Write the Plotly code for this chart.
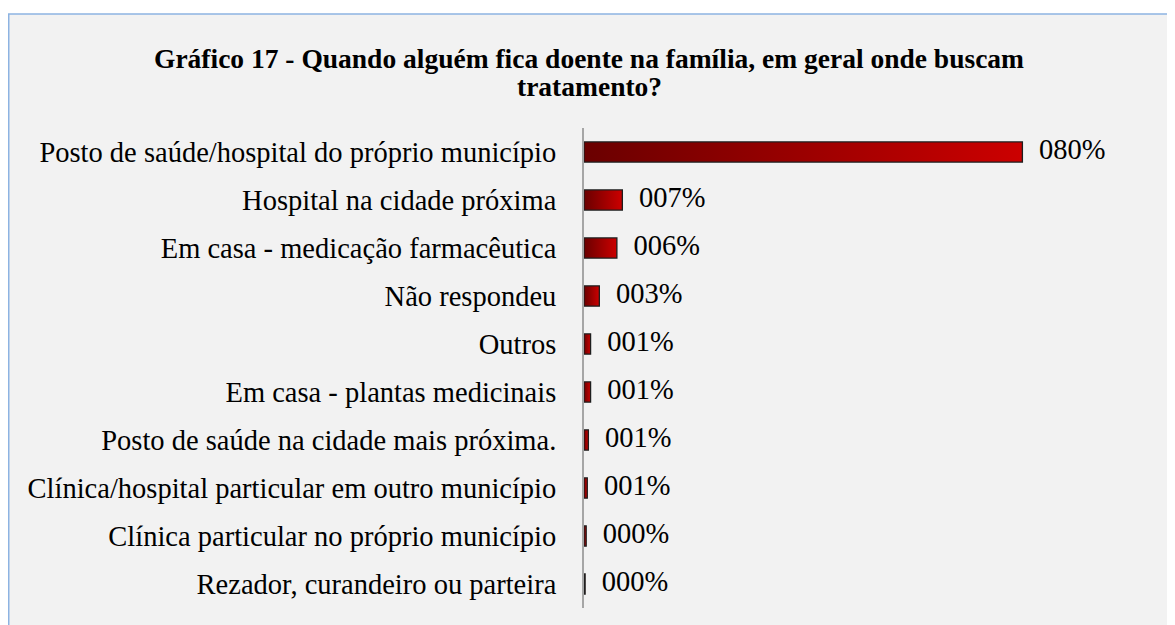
import plotly.graph_objects as go

categories = [
    "Posto de saúde/hospital do próprio município",
    "Hospital na cidade próxima",
    "Em casa - medicação farmacêutica",
    "Não respondeu",
    "Outros",
    "Em casa - plantas medicinais",
    "Posto de saúde na cidade mais próxima.",
    "Clínica/hospital particular em outro município",
    "Clínica particular no próprio município",
    "Rezador, curandeiro ou parteira",
]
values = [80.0, 7.0, 6.0, 2.8, 1.2, 1.2, 0.8, 0.6, 0.4, 0.2]
labels = [f"{round(v):03d}%" for v in values]
title_lines = [
    "Gráfico 17 - Quando alguém fica doente na família, em geral onde buscam",
    "tratamento?",
]

# page body has an 8px margin, so figure pixel = screenshot pixel - 8
W, H = 1167, 617
L, R_px = 576, 1124   # plot area x pixels
T, B_px = 120, 600    # plot area y pixels
XMAX = 100
BAR_HALF = 0.21
FONT = "Liberation Serif"

fig = go.Figure()
for i, (c, v) in enumerate(zip(categories, values)):
    fig.add_trace(go.Scatter(
        x=[0, v, v, 0, 0],
        y=[i - BAR_HALF, i - BAR_HALF, i + BAR_HALF, i + BAR_HALF, i - BAR_HALF],
        mode="lines", fill="toself",
        fillgradient=dict(type="horizontal",
                          colorscale=[[0, "#6a0000"], [1, "#cc0000"]]),
        line=dict(color="#1e1e1e", width=1.3),
        hoverinfo="skip", showlegend=False,
    ))

fig.add_trace(go.Scatter(
    x=values, y=list(range(len(values))), mode="text",
    text=["  \u200a" + t for t in labels], textposition="middle right",
    textfont=dict(family=FONT, size=28.5, color="#000"),
    showlegend=False, hoverinfo="skip",
))

def px_x(p):
    return (p - L) / (R_px - L)

def px_y(p):
    return (B_px - p) / (B_px - T)

shapes = [
    dict(type="rect", xref="paper", yref="paper", x0=px_x(-5), x1=px_x(W + 5), y0=px_y(6), y1=px_y(-5),
         fillcolor="white", line=dict(width=0), layer="below"),
    dict(type="line", xref="paper", yref="paper", x0=px_x(0.75), x1=px_x(0.75), y0=px_y(6), y1=px_y(H + 5),
         line=dict(color="#8db3e2", width=1.5)),
    dict(type="line", xref="paper", yref="paper", x0=px_x(0), x1=px_x(W + 5), y0=px_y(6), y1=px_y(6),
         line=dict(color="#8db3e2", width=1.5)),
]

annotations = [
    dict(text=f"<b>{title_lines[0]}</b>", xref="paper", yref="paper",
         x=px_x(580.5), y=px_y(50), xanchor="center", yanchor="middle", showarrow=False,
         font=dict(family=FONT, size=27.5, color="#000")),
    dict(text=f"<b>{title_lines[1]}</b>", xref="paper", yref="paper",
         x=px_x(581), y=px_y(79), xanchor="center", yanchor="middle", showarrow=False,
         font=dict(family=FONT, size=27.5, color="#000")),
]

fig.update_layout(
    width=W, height=H,
    margin=dict(l=L, r=W - R_px, t=T, b=H - B_px),
    paper_bgcolor="#f2f2f2", plot_bgcolor="#f2f2f2",
    xaxis=dict(range=[0, XMAX], visible=False, fixedrange=True),
    yaxis=dict(
        range=[len(values) - 0.5, -0.5],
        tickvals=list(range(len(values))), ticktext=categories,
        showline=True, linecolor="#a6a6a6", linewidth=2,
        showgrid=False, zeroline=False,
        ticks="outside", ticklen=20, tickcolor="rgba(0,0,0,0)",
        tickfont=dict(family=FONT, size=28.5, color="#000"),
    ),
    shapes=shapes,
    annotations=annotations,
)

fig.write_html("out.html")
